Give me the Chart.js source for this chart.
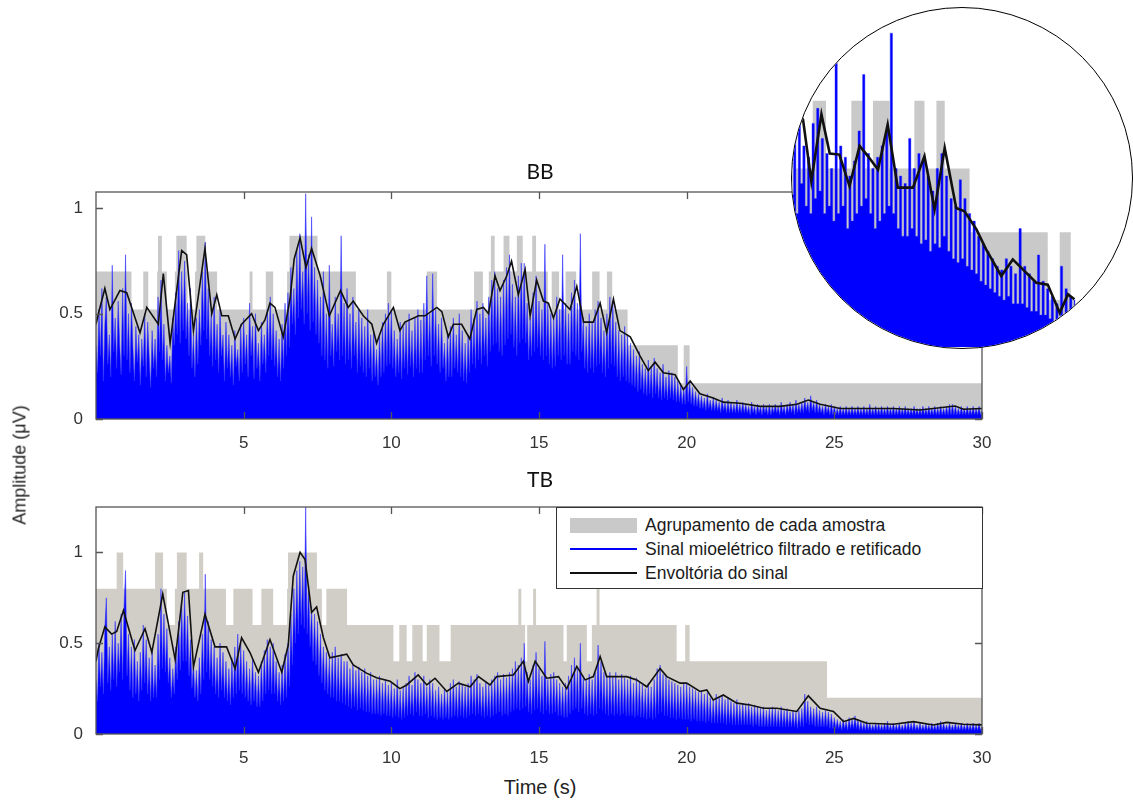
<!DOCTYPE html>
<html>
<head>
<meta charset="utf-8">
<title>BB / TB</title>
<script src="https://cdn.jsdelivr.net/npm/chart.js@4.4.1/dist/chart.umd.min.js"></script>
<style>
  html, body { margin: 0; padding: 0; background: #fff; }
  #page { position: relative; width: 1133px; height: 800px; overflow: hidden; font-family: "Liberation Sans", Arial, sans-serif; }
  canvas { position: absolute; }
  .title { position: absolute; font-family: Lato, "Open Sans", sans-serif; font-size: 21px; color: #111; transform: translate(-50%, -50%); }
  #ylabel { position: absolute; left: 20px; top: 465px; font-size: 18px; color: #222; transform: translate(-50%, -50%) rotate(-90deg); white-space: nowrap; }
  #xlabel { position: absolute; left: 540px; top: 787px; font-size: 20px; color: #222; transform: translate(-50%, -50%); }
  #legend { position: absolute; left: 556px; top: 507px; width: 427px; height: 82px; box-sizing: border-box; border: 1.4px solid #333; background: #fff; }
  .row { position: absolute; left: 13px; height: 20px; display: flex; align-items: center; font-size: 17.5px; color: #1a1a1a; white-space: nowrap; }
  .sym { width: 67px; margin-right: 8px; }
  #lens { position: absolute; left: 791px; top: 7px; width: 342px; height: 342px; box-sizing: border-box; border: 1.5px solid #000; border-radius: 50%; overflow: hidden; background: #fff; }
  #lens canvas { left: 0; top: 0; }
</style>
</head>
<body>
<div id="page">
  <canvas id="bb" width="1000" height="270" style="left:0;top:180px"></canvas>
  <canvas id="tb" width="1000" height="270" style="left:0;top:495px"></canvas>
  <div class="title" style="left:540px;top:170px">BB</div>
  <div class="title" style="left:540px;top:478px">TB</div>
  <div id="ylabel">Amplitude (μV)</div>
  <div id="xlabel">Time (s)</div>
  <div id="legend"></div>
  <div id="lens"><canvas id="zoom" width="339" height="339"></canvas></div>
</div>
<script>
// Sampling period of the rectified signal arrays (s)
const SAMPLE_DT = 0.05;

// Axis ticks
const xTicks = [5, 10, 15, 20, 25, 30];
const yTicks = [0, 0.5, 1];

// Legend labels
const labelGroup = 'Agrupamento de cada amostra';
const labelSignal = 'Sinal mioelétrico filtrado e retificado';
const labelEnvelope = 'Envoltória do sinal';

// ---- BB ----
// rectified signal, one value every 0.05 s from 0 to 30 s (one row = 0.5 s)
const bbSignal = [
  0.35,0.22,0.52,0.30,0.62,0.18,0.45,0.58,0.26,0.40,
  0.20,0.73,0.32,0.48,0.24,0.56,0.36,0.21,0.62,0.30,
  0.78,0.28,0.50,0.22,0.55,0.34,0.18,0.44,0.27,0.40,
  0.16,0.38,0.25,0.50,0.20,0.46,0.30,0.15,0.42,0.24,
  0.38,0.20,0.58,0.32,0.66,0.28,0.45,0.18,0.35,0.22,
  0.30,0.17,0.48,0.35,0.60,0.40,0.80,0.36,0.70,0.42,
  0.75,0.38,0.55,0.30,0.62,0.24,0.40,0.20,0.48,0.26,
  0.52,0.35,0.70,0.42,0.84,0.38,0.62,0.30,0.50,0.25,
  0.58,0.28,0.45,0.22,0.52,0.30,0.40,0.18,0.46,0.24,
  0.40,0.20,0.35,0.16,0.42,0.25,0.33,0.18,0.45,0.22,
  0.48,0.26,0.40,0.20,0.55,0.30,0.44,0.19,0.50,0.24,
  0.36,0.18,0.46,0.26,0.40,0.22,0.52,0.30,0.58,0.28,
  0.50,0.25,0.42,0.20,0.38,0.18,0.45,0.24,0.55,0.30,
  0.60,0.34,0.72,0.45,0.62,0.40,0.80,0.48,0.88,0.52,
  0.70,0.45,1.07,0.50,0.78,0.42,0.96,0.46,0.72,0.40,
  0.66,0.36,0.58,0.30,0.70,0.28,0.50,0.24,0.73,0.30,
  0.45,0.25,0.58,0.32,0.50,0.28,0.87,0.30,0.55,0.26,
  0.62,0.28,0.50,0.24,0.58,0.30,0.46,0.22,0.52,0.25,
  0.48,0.22,0.44,0.20,0.52,0.24,0.40,0.18,0.42,0.20,
  0.33,0.16,0.40,0.20,0.46,0.22,0.50,0.25,0.55,0.26,
  0.52,0.24,0.42,0.20,0.38,0.22,0.46,0.19,0.44,0.24,
  0.46,0.21,0.50,0.25,0.42,0.20,0.48,0.24,0.52,0.22,
  0.47,0.22,0.55,0.28,0.68,0.30,0.50,0.25,0.69,0.30,
  0.52,0.26,0.45,0.22,0.48,0.24,0.36,0.18,0.40,0.20,
  0.44,0.20,0.48,0.24,0.40,0.22,0.50,0.20,0.42,0.18,
  0.36,0.17,0.40,0.22,0.52,0.26,0.48,0.24,0.56,0.28,
  0.50,0.26,0.55,0.30,0.48,0.25,0.58,0.32,0.66,0.35,
  0.70,0.36,0.62,0.32,0.58,0.30,0.66,0.35,0.72,0.38,
  0.78,0.40,0.64,0.34,0.58,0.30,0.68,0.36,0.74,0.38,
  0.74,0.36,0.55,0.28,0.48,0.30,0.60,0.32,0.68,0.34,
  0.56,0.30,0.52,0.28,0.83,0.30,0.55,0.26,0.50,0.24,
  0.48,0.25,0.58,0.30,0.52,0.28,0.78,0.30,0.55,0.26,
  0.50,0.26,0.60,0.32,0.66,0.30,0.55,0.28,0.88,0.32,
  0.48,0.24,0.44,0.22,0.50,0.24,0.46,0.22,0.52,0.25,
  0.56,0.26,0.48,0.22,0.42,0.20,0.50,0.24,0.58,0.26,
  0.56,0.25,0.46,0.20,0.42,0.18,0.40,0.20,0.44,0.18,
  0.40,0.17,0.36,0.16,0.33,0.15,0.30,0.13,0.32,0.14,
  0.26,0.12,0.24,0.11,0.28,0.12,0.25,0.10,0.29,0.12,
  0.24,0.10,0.22,0.09,0.26,0.10,0.20,0.09,0.23,0.10,
  0.22,0.09,0.20,0.08,0.18,0.08,0.16,0.07,0.15,0.07,
  0.25,0.08,0.18,0.07,0.15,0.06,0.13,0.06,0.12,0.05,
  0.11,0.05,0.10,0.04,0.12,0.05,0.09,0.04,0.10,0.04,
  0.09,0.04,0.08,0.03,0.10,0.04,0.08,0.03,0.09,0.03,
  0.08,0.03,0.07,0.03,0.09,0.03,0.07,0.03,0.08,0.03,
  0.07,0.03,0.06,0.02,0.08,0.03,0.06,0.02,0.07,0.03,
  0.06,0.02,0.07,0.03,0.06,0.02,0.07,0.02,0.06,0.03,
  0.07,0.03,0.06,0.02,0.08,0.03,0.06,0.02,0.07,0.03,
  0.08,0.03,0.07,0.02,0.09,0.03,0.07,0.03,0.08,0.03,
  0.10,0.04,0.08,0.03,0.11,0.04,0.08,0.03,0.09,0.03,
  0.07,0.03,0.06,0.02,0.07,0.03,0.06,0.02,0.07,0.02,
  0.06,0.02,0.05,0.02,0.06,0.02,0.05,0.02,0.06,0.02,
  0.05,0.02,0.06,0.02,0.05,0.02,0.06,0.02,0.05,0.02,
  0.06,0.02,0.05,0.02,0.07,0.02,0.05,0.02,0.06,0.02,
  0.05,0.02,0.06,0.02,0.05,0.02,0.06,0.02,0.05,0.02,
  0.06,0.02,0.05,0.02,0.06,0.02,0.05,0.02,0.06,0.02,
  0.05,0.02,0.05,0.02,0.06,0.02,0.05,0.02,0.05,0.02,
  0.06,0.02,0.05,0.02,0.06,0.02,0.05,0.02,0.06,0.02,
  0.05,0.02,0.06,0.02,0.05,0.02,0.06,0.02,0.07,0.02,
  0.07,0.02,0.06,0.02,0.05,0.02,0.06,0.02,0.05,0.02,
  0.06,0.02,0.05,0.02,0.06,0.02,0.05,0.02,0.06,0.02,
  0.04
];
const bbEnvTime = [
  0.0,0.08,0.30,0.47,0.81,1.04,1.49,1.72,2.11,2.28,
  2.51,2.90,3.07,3.30,3.69,3.92,4.09,4.26,4.48,4.71,
  4.93,5.27,5.50,5.72,5.89,6.06,6.34,6.57,6.71,6.91,
  7.11,7.30,7.59,7.90,8.28,8.54,8.71,9.05,9.34,9.50,
  9.73,10.07,10.29,10.46,10.92,11.14,11.54,11.71,11.93,12.10,
  12.38,12.66,12.89,13.12,13.29,13.51,13.68,13.91,14.07,14.30,
  14.53,14.70,14.92,15.15,15.32,15.49,15.71,16.05,16.28,16.51,
  16.84,17.07,17.29,17.52,17.74,18.09,18.42,18.70,18.93,19.21,
  19.61,19.89,20.12,20.45,20.90,21.24,21.81,22.49,23.16,23.73,
  24.12,24.52,25.2,26.1,27.0,27.9,29.09,29.37,30.0
];
const bbEnvValue = [
  0.45,0.50,0.62,0.52,0.61,0.60,0.41,0.53,0.45,0.69,
  0.36,0.80,0.78,0.42,0.81,0.50,0.59,0.49,0.49,0.38,
  0.45,0.50,0.42,0.47,0.55,0.53,0.39,0.57,0.76,0.86,
  0.72,0.81,0.68,0.49,0.61,0.53,0.56,0.49,0.45,0.36,
  0.45,0.53,0.42,0.46,0.49,0.49,0.53,0.51,0.39,0.45,
  0.45,0.38,0.52,0.53,0.50,0.68,0.61,0.68,0.75,0.59,
  0.71,0.49,0.66,0.56,0.55,0.48,0.57,0.52,0.63,0.46,
  0.46,0.55,0.41,0.57,0.42,0.39,0.30,0.23,0.27,0.22,
  0.21,0.14,0.18,0.12,0.10,0.08,0.075,0.06,0.06,0.07,
  0.09,0.07,0.05,0.05,0.05,0.043,0.062,0.046,0.05
];
// grouping levels: each level holds from its start time until the next one
const bbGroupStart = [
  0,1.2,1.6,1.77,2.07,2.1,2.23,2.4,2.67,2.72,
  3.07,3.1,3.35,3.4,3.7,4.1,5.2,5.3,5.75,6.0,
  6.47,6.55,7.5,8.8,9.85,10.0,11.2,11.55,12.8,13.1,
  13.3,13.37,13.5,13.8,14.0,14.25,14.45,14.77,14.9,15.3,
  15.43,15.68,15.9,16.26,16.8,17.05,17.3,17.48,18.0,19.7,
  19.9,20.1,30
];
const bbGroupLevel = [
  0.70,0.52,0.70,0.52,0.70,0.87,0.70,0.52,0.70,0.87,
  0.70,0.52,0.70,0.87,0.70,0.52,0.70,0.52,0.70,0.52,
  0.70,0.87,0.70,0.52,0.70,0.52,0.70,0.52,0.70,0.52,
  0.70,0.87,0.70,0.87,0.70,0.87,0.70,0.87,0.70,0.52,
  0.70,0.52,0.70,0.52,0.70,0.52,0.70,0.52,0.35,0.17,
  0.35,0.17,0.17
];

// ---- TB ----
const tbSignal = [
  0.30,0.18,0.50,0.26,0.45,0.22,0.58,0.75,0.28,0.48,
  0.24,0.55,0.30,0.62,0.26,0.50,0.34,0.66,0.30,0.70,
  0.90,0.32,0.55,0.24,0.48,0.20,0.52,0.22,0.40,0.18,
  0.45,0.24,0.60,0.28,0.52,0.22,0.42,0.18,0.46,0.20,
  0.38,0.20,0.55,0.30,0.80,0.36,0.66,0.34,0.58,0.28,
  0.42,0.20,0.36,0.22,0.48,0.30,0.62,0.35,0.72,0.40,
  0.78,0.40,0.65,0.32,0.52,0.25,0.40,0.20,0.35,0.18,
  0.42,0.22,0.55,0.30,0.88,0.34,0.62,0.30,0.52,0.26,
  0.48,0.22,0.42,0.20,0.50,0.24,0.45,0.20,0.40,0.18,
  0.36,0.16,0.42,0.20,0.48,0.22,0.55,0.24,0.50,0.22,
  0.46,0.20,0.40,0.18,0.36,0.16,0.42,0.18,0.34,0.15,
  0.32,0.15,0.40,0.18,0.46,0.22,0.52,0.24,0.48,0.22,
  0.50,0.22,0.40,0.18,0.34,0.16,0.38,0.18,0.44,0.20,
  0.50,0.26,0.66,0.38,0.80,0.50,0.90,0.55,0.95,0.60,
  0.92,0.58,1.25,0.55,0.82,0.48,0.70,0.40,0.66,0.38,
  0.62,0.32,0.55,0.28,0.48,0.24,0.45,0.22,0.42,0.20,
  0.45,0.20,0.48,0.18,0.42,0.18,0.44,0.17,0.40,0.16,
  0.40,0.15,0.36,0.14,0.38,0.15,0.35,0.13,0.37,0.14,
  0.34,0.13,0.36,0.12,0.32,0.12,0.34,0.11,0.30,0.11,
  0.30,0.11,0.32,0.10,0.28,0.11,0.30,0.10,0.27,0.10,
  0.28,0.09,0.25,0.10,0.30,0.09,0.24,0.08,0.26,0.09,
  0.28,0.10,0.32,0.11,0.27,0.10,0.34,0.12,0.30,0.10,
  0.28,0.10,0.32,0.11,0.26,0.09,0.30,0.10,0.28,0.09,
  0.24,0.08,0.26,0.09,0.22,0.08,0.25,0.09,0.23,0.08,
  0.28,0.09,0.30,0.10,0.26,0.09,0.29,0.10,0.27,0.09,
  0.26,0.09,0.28,0.10,0.32,0.11,0.30,0.10,0.33,0.11,
  0.28,0.10,0.26,0.09,0.29,0.10,0.27,0.09,0.30,0.10,
  0.32,0.11,0.34,0.12,0.30,0.10,0.33,0.11,0.31,0.10,
  0.34,0.12,0.36,0.13,0.40,0.14,0.38,0.13,0.42,0.14,
  0.50,0.15,0.34,0.12,0.30,0.11,0.38,0.13,0.45,0.14,
  0.36,0.12,0.32,0.11,0.51,0.13,0.30,0.11,0.33,0.11,
  0.34,0.12,0.30,0.10,0.28,0.10,0.26,0.09,0.28,0.09,
  0.32,0.11,0.38,0.13,0.42,0.14,0.36,0.12,0.50,0.14,
  0.32,0.11,0.30,0.10,0.33,0.11,0.30,0.10,0.34,0.11,
  0.49,0.14,0.40,0.13,0.34,0.11,0.32,0.10,0.34,0.11,
  0.32,0.10,0.34,0.11,0.30,0.10,0.33,0.11,0.31,0.10,
  0.30,0.10,0.32,0.10,0.28,0.09,0.31,0.10,0.29,0.09,
  0.27,0.09,0.25,0.08,0.28,0.09,0.26,0.08,0.30,0.09,
  0.36,0.11,0.38,0.12,0.33,0.10,0.32,0.10,0.30,0.09,
  0.29,0.09,0.28,0.08,0.27,0.09,0.26,0.08,0.28,0.08,
  0.28,0.08,0.26,0.07,0.25,0.08,0.24,0.07,0.23,0.07,
  0.24,0.07,0.22,0.06,0.23,0.07,0.20,0.06,0.19,0.06,
  0.22,0.06,0.20,0.06,0.21,0.06,0.19,0.05,0.20,0.06,
  0.18,0.05,0.17,0.05,0.19,0.05,0.16,0.05,0.17,0.05,
  0.16,0.05,0.17,0.05,0.15,0.04,0.16,0.05,0.15,0.04,
  0.14,0.04,0.15,0.04,0.13,0.04,0.14,0.04,0.15,0.04,
  0.14,0.04,0.13,0.04,0.15,0.04,0.13,0.04,0.14,0.04,
  0.12,0.04,0.13,0.04,0.12,0.03,0.13,0.04,0.14,0.04,
  0.22,0.06,0.18,0.05,0.15,0.05,0.14,0.04,0.15,0.04,
  0.13,0.04,0.12,0.04,0.13,0.04,0.12,0.03,0.11,0.03,
  0.09,0.03,0.08,0.03,0.07,0.02,0.08,0.03,0.07,0.02,
  0.09,0.03,0.08,0.03,0.10,0.03,0.08,0.02,0.07,0.02,
  0.06,0.02,0.07,0.02,0.06,0.02,0.05,0.02,0.06,0.02,
  0.06,0.02,0.05,0.02,0.06,0.02,0.07,0.02,0.05,0.02,
  0.06,0.02,0.05,0.02,0.06,0.02,0.05,0.02,0.06,0.02,
  0.07,0.02,0.06,0.02,0.07,0.02,0.05,0.02,0.06,0.02,
  0.05,0.02,0.06,0.02,0.05,0.02,0.06,0.02,0.05,0.02,
  0.06,0.02,0.07,0.02,0.06,0.02,0.05,0.02,0.06,0.02,
  0.05,0.02,0.06,0.02,0.05,0.02,0.06,0.02,0.05,0.02,
  0.06,0.02,0.05,0.02,0.06,0.02,0.05,0.02,0.06,0.02,
  0.04
];
const tbEnvTime = [
  0.0,0.08,0.30,0.53,0.70,0.93,1.32,1.66,1.89,2.26,
  2.68,2.94,3.13,3.30,3.69,4.03,4.42,4.71,4.93,5.21,
  5.50,5.89,6.29,6.51,6.68,6.91,7.08,7.30,7.47,7.70,
  7.92,8.49,8.71,9.16,9.50,9.96,10.29,10.52,10.91,11.2,
  11.48,11.88,12.27,12.67,12.95,13.34,13.57,14.13,14.47,14.64,
  14.87,15.26,15.66,15.94,16.28,16.56,16.84,17.07,17.29,17.52,
  17.97,18.31,18.65,19.10,19.33,19.78,20.0,20.45,20.68,20.90,
  21.24,21.70,22.15,22.60,23.05,23.73,24.12,24.52,24.97,25.31,
  25.65,26.1,27.0,27.68,28.35,28.81,29.37,30.0
];
const tbEnvValue = [
  0.40,0.47,0.59,0.55,0.565,0.68,0.46,0.58,0.45,0.77,
  0.41,0.78,0.79,0.37,0.66,0.48,0.48,0.36,0.53,0.45,
  0.34,0.52,0.34,0.49,0.87,1.00,0.96,0.67,0.70,0.53,
  0.42,0.44,0.38,0.335,0.31,0.29,0.25,0.27,0.325,0.27,
  0.307,0.234,0.28,0.26,0.316,0.27,0.316,0.325,0.40,0.29,
  0.40,0.307,0.316,0.25,0.372,0.298,0.316,0.427,0.316,0.316,
  0.316,0.298,0.26,0.36,0.316,0.28,0.28,0.234,0.243,0.188,
  0.215,0.17,0.16,0.142,0.142,0.124,0.21,0.142,0.124,0.068,
  0.086,0.059,0.054,0.068,0.05,0.064,0.054,0.05
];
const tbGroupStart = [
  0,0.7,0.92,2.0,2.27,2.4,2.67,2.74,3.07,3.49,
  3.63,4.4,4.65,5.3,5.6,6.0,6.47,6.5,7.48,7.65,
  7.8,8.5,10.07,10.27,10.52,10.71,11.06,11.2,11.63,12.01,
  14.3,14.4,14.53,14.6,14.8,14.9,15.83,15.94,16.62,16.79,
  16.95,17.05,19.66,19.95,20.1,24.75,30
];
const tbGroupLevel = [
  0.8,1.0,0.8,1.0,0.8,0.6,0.8,1.0,0.8,1.0,
  0.8,0.6,0.8,0.6,0.8,0.6,0.8,1.0,0.8,0.6,
  0.8,0.6,0.4,0.6,0.4,0.6,0.4,0.6,0.4,0.6,
  0.8,0.6,0.4,0.6,0.8,0.6,0.4,0.6,0.4,0.6,
  0.8,0.6,0.4,0.6,0.4,0.2,0.2
];

// ---- magnified BB detail (circle), 14.1 s to 20.3 s ----
const zoomStart = 14.1;
const zoomSignal = [
  0.70,0.45,0.62,0.40,0.66,0.48,0.58,0.42,0.55,0.40,
  0.64,0.44,0.68,0.46,0.60,0.40,0.56,0.42,0.52,0.38,
  0.80,0.40,0.58,0.42,0.55,0.36,0.50,0.38,0.54,0.40,
  0.62,0.42,0.77,0.44,0.56,0.40,0.52,0.36,0.55,0.38,
  0.58,0.40,0.62,0.42,0.88,0.40,0.52,0.36,0.50,0.34,
  0.48,0.34,0.60,0.36,0.52,0.34,0.56,0.32,0.54,0.33,
  0.50,0.30,0.46,0.32,0.52,0.31,0.56,0.34,0.50,0.30,
  0.44,0.28,0.42,0.27,0.49,0.28,0.44,0.26,0.40,0.25,
  0.38,0.24,0.34,0.22,0.32,0.21,0.30,0.20,0.28,0.19,
  0.26,0.18,0.25,0.17,0.28,0.18,0.26,0.16,0.24,0.16,
  0.36,0.16,0.26,0.15,0.24,0.14,0.22,0.14,0.29,0.13,
  0.22,0.13,0.20,0.12,0.18,0.11,0.16,0.10,0.26,0.11,
  0.20,0.12,0.18,0.11,0.17
];
const zoomEnvTime = [
  14.1,14.38,14.56,14.78,14.96,15.17,15.39,15.61,15.79,16.01,
  16.22,16.44,16.77,17.02,17.24,17.46,17.71,17.89,18.15,18.36,
  18.69,18.94,19.23,19.45,19.70,19.96,20.14,20.28
];
const zoomEnvValue = [
  0.70,0.65,0.486,0.664,0.56,0.557,0.473,0.58,0.553,0.517,
  0.637,0.469,0.469,0.553,0.411,0.575,0.415,0.406,0.358,0.305,
  0.234,0.278,0.243,0.216,0.211,0.136,0.185,0.172
];
const zoomGroupStart = [14.1,14.59,14.88,15.43,15.68,15.9,16.26,16.8,17.02,17.28,17.46,18.0,19.7,19.96,20.2,20.3];
const zoomGroupLevel = [0.52,0.70,0.52,0.70,0.52,0.70,0.52,0.70,0.52,0.70,0.52,0.35,0.17,0.35,0.17,0.17];

// colours
const BLUE = '#0000ff';
const BLACK = '#111111';
const GRAY_BB = '#c9c9c9';
const GRAY_TB = '#d1cec8';

Chart.defaults.font.family = '"Liberation Sans", Arial, sans-serif';
Chart.defaults.font.size = 17;
Chart.defaults.color = '#333';

function sampled(values, t0) {
  return values.map((v, i) => ({ x: +(t0 + i * SAMPLE_DT).toFixed(3), y: v }));
}

function paired(times, values) {
  return times.map((t, i) => ({ x: t, y: values[i] }));
}

function makeDatasets(signal, t0, envT, envV, grpT, grpV, grayColor, magnified) {
  return [
    {
      label: labelEnvelope,
      data: paired(envT, envV),
      borderColor: BLACK,
      borderWidth: magnified ? 2.6 : 1.6,
      pointRadius: 0,
      fill: false,
      order: 0
    },
    {
      label: labelSignal,
      data: sampled(signal, t0),
      stepped: magnified ? 'middle' : false,
      borderColor: 'rgba(50,50,255,0.7)',
      backgroundColor: BLUE,
      borderWidth: magnified ? 0.6 : 0.8,
      pointRadius: 0,
      fill: 'origin',
      order: 1
    },
    {
      // Chart.js 'before': the level of a point holds until the next point
      label: labelGroup,
      data: paired(grpT, grpV),
      stepped: 'before',
      borderColor: 'transparent',
      borderWidth: 0,
      backgroundColor: grayColor,
      pointRadius: 0,
      fill: 'origin',
      order: 2
    }
  ];
}

// MATLAB style box with inward ticks
const boxPlugin = {
  id: 'boxPlugin',
  afterDatasetsDraw(chart) {
    const { ctx, chartArea: a, scales } = chart;
    ctx.save();
    ctx.strokeStyle = '#555';
    ctx.lineWidth = 1.3;
    ctx.strokeRect(a.left, a.top, a.width, a.height);
    ctx.beginPath();
    scales.x.ticks.forEach(t => {
      const px = Math.round(scales.x.getPixelForValue(t.value)) + 0.5;
      ctx.moveTo(px, a.bottom); ctx.lineTo(px, a.bottom - 7);
      ctx.moveTo(px, a.top); ctx.lineTo(px, a.top + 7);
    });
    scales.y.ticks.forEach(t => {
      const py = Math.round(scales.y.getPixelForValue(t.value)) + 0.5;
      ctx.moveTo(a.left, py); ctx.lineTo(a.left + 7, py);
      ctx.moveTo(a.right, py); ctx.lineTo(a.right - 7, py);
    });
    ctx.stroke();
    ctx.restore();
  }
};

function makePanel(id, datasets, yMax) {
  return new Chart(document.getElementById(id), {
    type: 'line',
    data: { datasets: datasets },
    options: {
      responsive: false,
      animation: false,
      layout: { padding: { top: 12, right: 18, left: 0, bottom: 0 } },
      plugins: { legend: { display: false }, tooltip: { enabled: false } },
      scales: {
        x: {
          type: 'linear',
          min: 0,
          max: 30,
          grid: { display: false, drawTicks: false },
          border: { display: false },
          afterBuildTicks: axis => { axis.ticks = xTicks.map(v => ({ value: v })); },
          afterFit: axis => {
            axis.height = 31;
            axis.paddingLeft = 0;
            axis.paddingRight = 0;
          },
          ticks: { padding: 14, maxRotation: 0, color: '#333' }
        },
        y: {
          min: 0,
          max: yMax,
          grid: { display: false, drawTicks: false },
          border: { display: false },
          afterBuildTicks: axis => { axis.ticks = yTicks.map(v => ({ value: v })); },
          afterFit: axis => {
            axis.width = 96;
            axis.paddingTop = 0;
            axis.paddingBottom = 0;
          },
          ticks: { padding: 13, color: '#333', callback: v => String(v) }
        }
      }
    },
    plugins: [boxPlugin]
  });
}

const bbChart = makePanel('bb',
  makeDatasets(bbSignal, 0, bbEnvTime, bbEnvValue, bbGroupStart, bbGroupLevel, GRAY_BB, false), 1.078);
const tbChart = makePanel('tb',
  makeDatasets(tbSignal, 0, tbEnvTime, tbEnvValue, tbGroupStart, tbGroupLevel, GRAY_TB, false), 1.25);

// magnified detail inside the circle
new Chart(document.getElementById('zoom'), {
  type: 'line',
  data: { datasets: makeDatasets(zoomSignal, zoomStart, zoomEnvTime, zoomEnvValue, zoomGroupStart, zoomGroupLevel, GRAY_BB, true) },
  options: {
    responsive: false,
    animation: false,
    layout: { padding: 0 },
    plugins: { legend: { display: false }, tooltip: { enabled: false } },
    scales: {
      x: { type: 'linear', display: false, min: 14.14, max: 21.51 },
      y: { display: false, min: 0.045, max: 0.947 }
    }
  }
});

// legend built from the TB datasets (gray, blue, black)
const legendEl = document.getElementById('legend');
const rowTops = [7, 31, 55];
tbChart.data.datasets.slice().reverse().forEach((ds, i) => {
  const row = document.createElement('div');
  row.className = 'row';
  row.style.top = rowTops[i] + 'px';
  const sym = document.createElement('span');
  sym.className = 'sym';
  if (ds.label === labelGroup) {
    sym.style.height = '15px';
    sym.style.background = GRAY_BB;
  } else {
    sym.style.height = '0';
    sym.style.borderTop = '2px solid ' + (ds.label === labelEnvelope ? BLACK : BLUE);
  }
  row.appendChild(sym);
  row.appendChild(document.createTextNode(ds.label));
  legendEl.appendChild(row);
});
</script>
</body>
</html>
